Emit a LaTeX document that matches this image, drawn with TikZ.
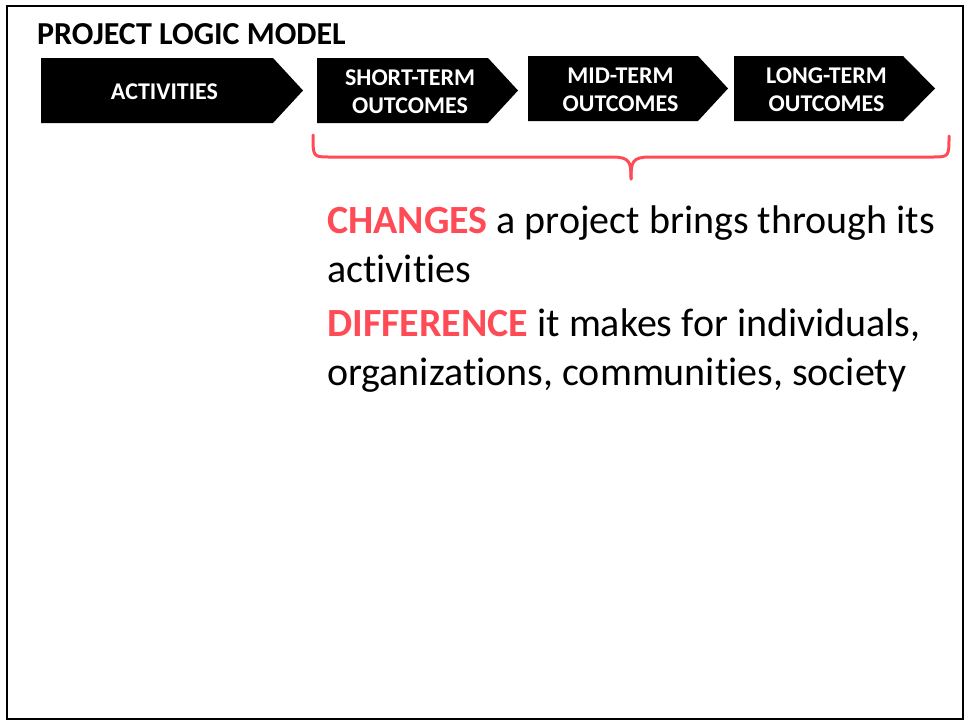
\documentclass[tikz,border=0pt]{standalone}
\usepackage{fontspec}
\setmainfont{Carlito}[Ligatures=NoCommon]
\usetikzlibrary{positioning}
\definecolor{accent}{HTML}{FF4B55}

\begin{document}
\begin{tikzpicture}[
  x=1pt, y=-1pt,
  stage/.style={fill=black, draw=none},
  stagelab/.style={text=white, font=\fontsize{24}{28}\selectfont\bfseries, align=center, inner sep=0pt},
  body/.style={font=\fontsize{40}{49}\selectfont, align=left, anchor=base west, inner sep=0pt},
  brace/.style={draw=accent, line width=3pt, line cap=round, line join=round},
]
\useasboundingbox (0,0) rectangle (968,723);

% frame of the slide
\draw[line width=2.2pt] (7,6) rectangle (963,719);

\node[anchor=base west, inner sep=0pt, font=\fontsize{32}{34}\selectfont\bfseries] (title) at (37,44) {PROJECT LOGIC MODEL};

% one stage of the chain: left, shoulder, tip, top, bottom, name, label
\newcommand{\stagearrow}[7]{%
  \fill[stage] (#1,#4) -- (#2,#4) -- (#3,{(#4+#5)/2}) -- (#2,#5) -- (#1,#5) -- cycle;
  \node[stagelab] (#6) at ({(#1+(#2+#3)/2)/2},{(#4+#5)/2+1}) {#7};
}

\stagearrow{41}{273}{303}{58}{123}{act}{ACTIVITIES}
\stagearrow{317}{488}{518}{58}{123}{short}{SHORT-TERM\\OUTCOMES}
\stagearrow{528}{698}{728}{56}{121}{mid}{MID-TERM\\OUTCOMES}
\stagearrow{734}{903}{935}{56}{121}{long}{LONG-TERM\\OUTCOMES}

% brace under the three outcome stages
\draw[brace] (313,135) .. controls (313,157) and (313,157) .. (330,157)
  -- (612,157) .. controls (630,157) and (631,162) .. (631,179);
\draw[brace] (949,136) .. controls (949,157) and (949,157) .. (932,157)
  -- (650,157) .. controls (632,157) and (631,162) .. (631,179);

% what outcomes are (base anchor sits on the last line)
\node[body] (changes) at (327,282)
  {\textcolor{accent}{\bfseries CHANGES} a project brings through its\\activities};
\node[body] (difference) at (327,385)
  {\textcolor{accent}{\bfseries DIFFERENCE} it makes for individuals,\\organizations, communities, society};
\end{tikzpicture}
\end{document}
